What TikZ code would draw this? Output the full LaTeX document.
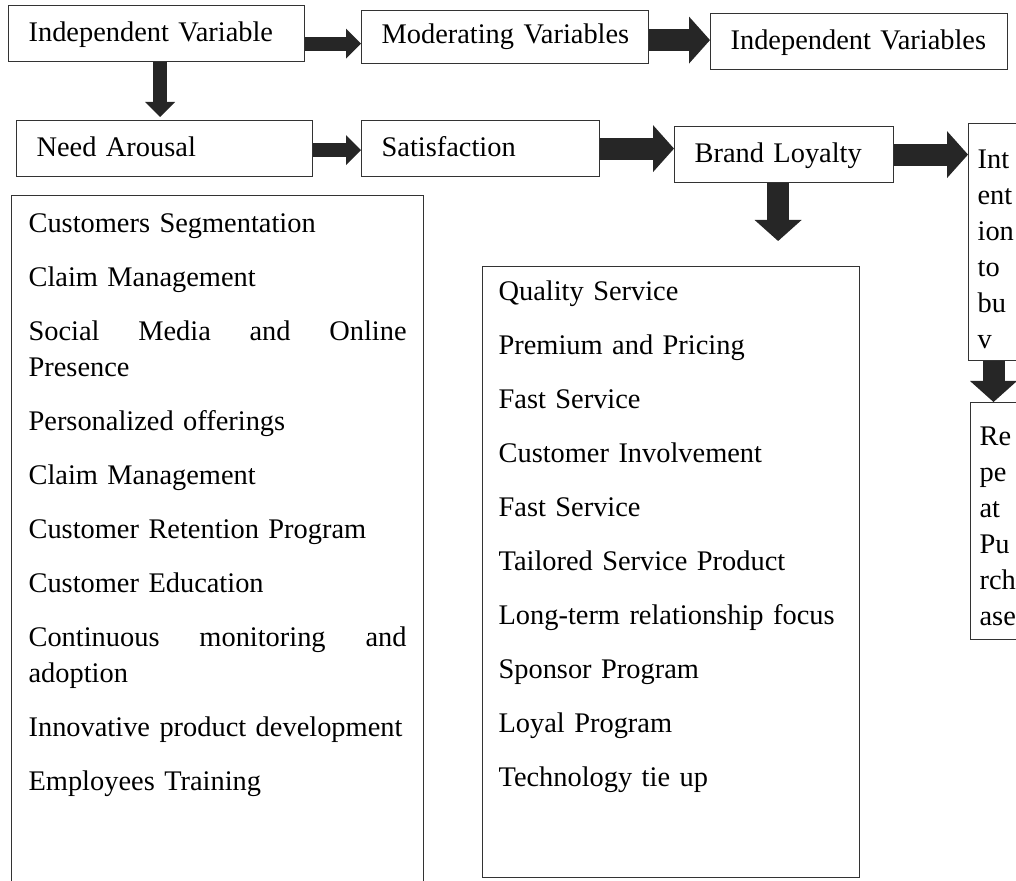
\documentclass[tikz,border=0pt]{standalone}
\usepackage{fontspec}
\setmainfont{Liberation Serif}
\usepackage{tikz}
\usetikzlibrary{arrows.meta}

\begin{document}
\begin{tikzpicture}[x=0.5pt, y=-0.5pt,
    font=\fontsize{14.2pt}{18pt}\selectfont,
    box/.style={draw=black!80, line width=0.6pt, anchor=north west, align=left,
      inner xsep=10pt, inner ysep=0pt, text height=18pt, text depth=10pt},
    listbox/.style={draw=black!80, line width=0.6pt, anchor=north west, align=left,
      inner xsep=8.5pt, inner ysep=0pt},
    slim/.style={draw=black!85, line width=7pt, -{Triangle[width=15pt,length=7.5pt,line width=0pt]}},
    wide/.style={draw=black!85, line width=11pt, -{Triangle[width=23.5pt,length=10.5pt,line width=0pt]}}]
    \useasboundingbox (0,0) rectangle (1016,881);
    \clip (0,0) rectangle (1016,881);

    \node[box, text width=128pt] (iv) at (8,5) {Independent Variable};
    \node[box, text width=123.5pt, text height=16.5pt] (mv) at (361,10) {\mbox{Moderating Variables}};
    \node[box, text width=128.5pt] (idv) at (710,13) {\mbox{Independent Variables}};
    \node[box, text width=128pt] (na) at (16,120) {Need Arousal};
    \node[box, text width=99pt] (sat) at (361,120) {Satisfaction};
    \node[box, text width=89.5pt] (bl) at (674,126) {Brand Loyalty};

    \node[listbox, text width=22pt, inner xsep=4.5pt, text height=22.5pt, text depth=96pt] (int) at (968,123)
      {Int\\ent\\ion\\to\\bu\\v};
    \node[listbox, text width=22pt, inner xsep=4.5pt, text height=21.5pt, text depth=97pt] (rep) at (970,402)
      {Re\\pe\\at\\Pu\\rch\\ase};

    \node[listbox, text width=189pt, text height=18.5pt, text depth=340pt] (drv) at (11,195) {
      Customers Segmentation\\[9pt]
      Claim Management\\[9pt]
      Social\hfill Media\hfill and\hfill Online\\
      Presence\\[9pt]
      Personalized offerings\\[9pt]
      Claim Management\\[9pt]
      Customer Retention Program\\[9pt]
      Customer Education\\[9pt]
      Continuous\hfill monitoring\hfill and\\
      adoption\\[9pt]
      Innovative product development\\[9pt]
      Employees Training};
    \node[listbox, text width=172.5pt, inner xsep=8pt, text height=17pt, text depth=288.5pt] (fac) at (482,266) {
      Quality Service\\[9pt]
      Premium and Pricing\\[9pt]
      Fast Service\\[9pt]
      Customer Involvement\\[9pt]
      Fast Service\\[9pt]
      Tailored Service Product\\[9pt]
      Long-term relationship focus\\[9pt]
      Sponsor Program\\[9pt]
      Loyal Program\\[9pt]
      Technology tie up};

    \draw[slim] ([yshift=-5pt]iv.east) -- ([yshift=-5pt]iv.east -| mv.west);
    \draw[wide] ([yshift=-1.5pt]mv.east) -- ([yshift=-1.5pt]mv.east -| idv.west);
    \draw[slim, shorten >=1.5pt] ([xshift=1.75pt]iv.south) -- ([xshift=1.75pt]iv.south |- na.north);
    \draw[slim] ([yshift=-0.75pt]na.east) -- ([yshift=-0.75pt]na.east -| sat.west);
    \draw[wide] (sat.east) -- (sat.east -| bl.west);
    \draw[wide] (bl.east) -- (bl.east -| int.west);
    \draw[wide, shorten >=12.5pt] ([xshift=-3pt]bl.south) -- ([xshift=-3pt]bl.south |- fac.north);
    \draw[wide] ([xshift=12.75pt]int.south west) -- ([xshift=12.75pt]int.south west |- rep.north);

  \end{tikzpicture}
\end{document}
